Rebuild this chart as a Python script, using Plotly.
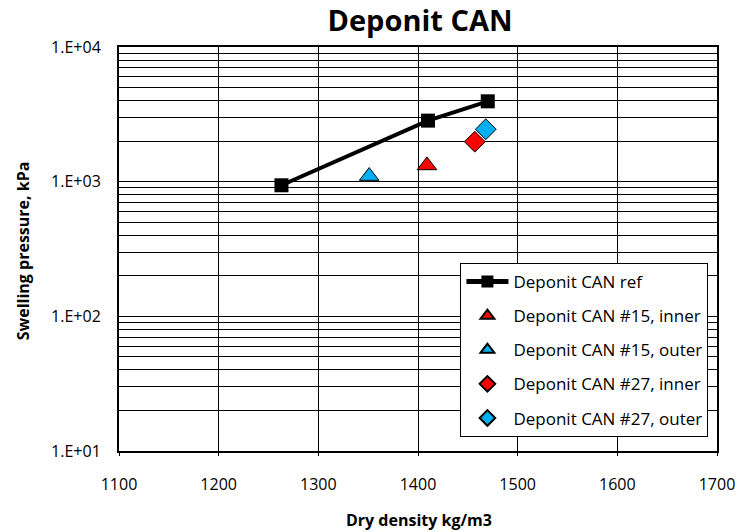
import plotly.graph_objects as go

# Data
ref_x = [1263, 1410, 1470]
ref_y = [940, 2840, 3950]
in15_x = [1409]
in15_y = [1320]
out15_x = [1351]
out15_y = [1100]
in27_x = [1457]
in27_y = [1980]
out27_x = [1468]
out27_y = [2450]

ytick_vals = [10, 100, 1000, 10000]
ytick_text = ["1.E+01", "1.E+02", "1.E+03", "1.E+04"]
xtick_vals = [1100, 1200, 1300, 1400, 1500, 1600, 1700]

RED = "#FF0000"
BLUE = "#00B0F0"
FONT = "Open Sans"

fig = go.Figure()
fig.add_trace(go.Scatter(x=ref_x, y=ref_y, mode="lines+markers", name="Deponit CAN ref",
                         legendgroup="a",
                         line=dict(color="black", width=4),
                         marker=dict(symbol="square", size=14, color="black")))
fig.add_trace(go.Scatter(x=in15_x, y=in15_y, mode="markers", name="Deponit CAN #15, inner",
                         legendgroup="b",
                         marker=dict(symbol="triangle-up", size=17, color=RED,
                                     line=dict(color="black", width=1))))
fig.add_trace(go.Scatter(x=out15_x, y=out15_y, mode="markers", name="Deponit CAN #15, outer",
                         legendgroup="c",
                         marker=dict(symbol="triangle-up", size=17, color=BLUE,
                                     line=dict(color="black", width=1))))
fig.add_trace(go.Scatter(x=in27_x, y=in27_y, mode="markers", name="Deponit CAN #27, inner",
                         legendgroup="d",
                         marker=dict(symbol="diamond", size=16, color=RED,
                                     line=dict(color="black", width=1))))
fig.add_trace(go.Scatter(x=out27_x, y=out27_y, mode="markers", name="Deponit CAN #27, outer",
                         legendgroup="e",
                         marker=dict(symbol="diamond", size=16, color=BLUE,
                                     line=dict(color="black", width=1))))

fig.update_layout(
    width=747, height=532,
    margin=dict(l=119, r=22, t=47, b=81),
    paper_bgcolor="white", plot_bgcolor="white",
    font=dict(family=FONT, color="black", size=16),
    title=dict(text="<b>Deponit CAN</b>", x=420/747, xanchor="center", y=1-21/532, yanchor="middle",
               font=dict(family=FONT, size=29, color="black")),
    showlegend=True,
    legend=dict(x=(465-119)/606, y=(451-263)/404, xanchor="left", yanchor="top",
                bgcolor="white", bordercolor="black", borderwidth=1,
                font=dict(family=FONT, size=17, color="black"),
                tracegroupgap=9, itemwidth=42, itemsizing="constant"),
    annotations=[
        dict(text="<b>Dry density kg/m3</b>", xref="paper", yref="paper",
             x=(423-119)/606, y=-(520-451)/404, xanchor="center", yanchor="middle",
             showarrow=False, font=dict(family=FONT, size=16, color="black")),
        dict(text="<b>Swelling pressure, kPa</b>", xref="paper", yref="paper",
             x=-(119-22)/606, y=(451-251)/404, xanchor="center", yanchor="middle",
             textangle=-90, showarrow=False, font=dict(family=FONT, size=16, color="black")),
    ],
)
fig.update_xaxes(range=[1100, 1700], tickvals=xtick_vals, showgrid=True, gridcolor="black", gridwidth=1,
                 showline=True, linecolor="black", linewidth=2, mirror=True,
                 ticks="outside", ticklen=3, tickcolor="black", ticklabelstandoff=15,
                 zeroline=False, tickfont=dict(family=FONT, size=16))
fig.update_yaxes(type="log", range=[1, 4], tickvals=ytick_vals, ticktext=ytick_text,
                 showgrid=True, gridcolor="black", gridwidth=1,
                 minor=dict(dtick="D1", showgrid=True, gridcolor="black", gridwidth=1, ticks=""),
                 showline=True, linecolor="black", linewidth=2, mirror=True,
                 ticks="", ticklabelstandoff=13,
                 zeroline=False, tickfont=dict(family=FONT, size=16))

fig.write_html("out.html")
